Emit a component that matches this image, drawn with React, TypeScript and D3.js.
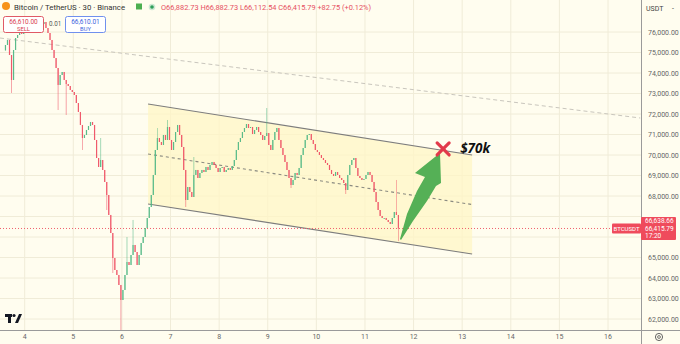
import React from 'react';
import * as d3 from 'd3';

// Hourly closes (BTC/USDT), first candle at -9.5h from day 4 00:00
const closes: number[] = [
  75366, 75610, 74878, 73659, 75122, 75707, 75854, 76098, 75902, 76000,
  76098, 75951, 76098, 76195, 76098, 76244, 76341, 76244, 76390, 76488,
  76195, 75951, 75610, 75122, 74731, 74244, 73415, 73903, 74049, 73659,
  73463, 73366, 73171, 73073, 72927, 72536, 72098, 71464, 70829, 70976,
  71220, 71415, 71610, 71464, 70732, 69853, 69415, 69756, 69269, 68683,
  68049, 67074, 66195, 64975, 64390, 64147, 63659, 62927, 63415, 64147,
  64780, 64634, 65122, 65610, 65268, 64634, 65122, 65707, 66000, 66439,
  66927, 67463, 68049, 69025, 70244, 70829, 70634, 70488, 70976, 70732,
  71366, 70732, 70244, 70634, 71122, 71464, 70976, 70390, 69269, 67805,
  68439, 68195, 67951, 69025, 69269, 68878, 69122, 69269, 69171, 69415,
  69269, 69513, 69659, 69513, 69366, 69171, 69366, 69415, 69171, 69269,
  69366, 69269, 69464, 69756, 70244, 70634, 70829, 71122, 71317, 71512,
  71317, 71366, 71024, 71220, 71366, 71122, 70976, 70732, 70927, 71073,
  70488, 70244, 70732, 71122, 71317, 70732, 70341, 70000, 69659, 69269,
  68878, 68537, 68781, 69122, 69025, 69366, 70000, 70341, 70732, 70976,
  71024, 70732, 70536, 70244, 70146, 70000, 69853, 69756, 69610, 69513,
  69269, 69073, 68976, 69171, 69025, 68878, 68781, 68634, 68293, 69025,
  69513, 69756, 69853, 69366, 68976, 68878, 68781, 68830, 69025, 69171,
  69025, 68683, 68195, 67707, 67317, 67025, 66927, 66927, 66830, 66732,
  66634, 66927, 67220, 67074, 66416,
];
const firstOpen = 75100;
const firstHour = -9.5;

// notable wicks [candle index, price]
const wickHighs: [number, number][] = [
  [47, 70829], [60, 66000], [63, 66830], [75, 71317], [80, 71708], [93, 69902],
  [129, 72292], [193, 68781],
];
const wickLows: [number, number][] = [
  [3, 73024], [26, 72195], [30, 71952], [38, 70244], [50, 67317], [53, 64244],
  [57, 61464], [89, 67463], [141, 68390], [168, 68097], [194, 65800],
];

const dayTicks = [4, 5, 6, 7, 8, 9, 10, 11, 12, 13, 14, 15, 16];
const priceTicks = [62000, 63000, 64000, 65000, 66000, 67000, 68000, 69000, 70000, 71000, 72000, 73000, 74000, 75000, 76000];

// channel (hours, price)
const channelUpper: [number, number][] = [[60.9, 72488], [220.9, 70000]];
const channelLower: [number, number][] = [[60.9, 67610], [220.9, 65170]];
const trendLine: [number, number][] = [[-12.2, 75707], [303.9, 71805]];
const targetPoint: [number, number] = [206.6, 70293];
const arrowTail: [number, number] = [185.3, 65903];

const UP = '#52b985';
const DOWN = '#ef5266';
const BG = '#fffdef';
const GRID = '#f0ecd8';
const FONT = 'Roboto, "Liberation Sans", Arial, sans-serif';

export default function App() {
  const W = 680, H = 344;
  const plotRight = 641, axisY = 330;
  const x = d3.scaleLinear().domain([0, 288]).range([24.7, 608]);
  const y = d3.scaleLinear().domain([62000, 76000]).range([319, 32]);
  const fmt = d3.format(',.2f');

  const hi = new Map(wickHighs);
  const lo = new Map(wickLows);

  const candles = closes.map((c, i) => {
    const o = i === 0 ? firstOpen : closes[i - 1];
    const h = Math.max(o, c, hi.get(i) ?? -Infinity);
    const l = Math.min(o, c, lo.get(i) ?? Infinity);
    return { t: firstHour + i, o, c, h, l };
  });

  const last = closes[closes.length - 1];
  const yLast = y(last);

  const mid: [number, number][] = [
    [channelUpper[0][0], (channelUpper[0][1] + channelLower[0][1]) / 2],
    [channelUpper[1][0], (channelUpper[1][1] + channelLower[1][1]) / 2],
  ];
  const px = (p: [number, number]) => [x(p[0]), y(p[1])] as [number, number];
  const para = [px(channelUpper[0]), px(channelUpper[1]), px(channelLower[1]), px(channelLower[0])];

  const [tx, ty] = px(arrowTail);
  const [cx, cy] = px(targetPoint);
  const arrowRel: [number, number][] = [
    [0, 0], [7, -25], [17, -48], [25, -62], [15, -66], [40, -86], [41, -56],
    [36, -53], [27, -38], [13, -18], [1, 1],
  ];
  const arrowPath = d3.line().curve(d3.curveLinearClosed)(arrowRel.map(([a, b]) => [tx + a, ty + b]))!;

  const hdrRed = '#e6505f';
  const boxTop = yLast - 11.5;
  const visibleTicks = priceTicks.filter(p => {
    const yy = y(p);
    return yy < boxTop - 3 || yy > boxTop + 26;
  });

  return (
    <svg width={W} height={H} style={{ position: 'fixed', left: 0, top: 0, background: BG }} fontFamily={FONT}>
      <defs>
        <clipPath id="aboveBox">
          <rect x={0} y={0} width={W} height={boxTop} />
        </clipPath>
      </defs>
      <rect x={0} y={0} width={W} height={H} fill={BG} />
      {/* grid */}
      {priceTicks.map(p => (
        <line key={'gy' + p} x1={0} x2={plotRight} y1={y(p)} y2={y(p)} stroke={GRID} strokeWidth={1} />
      ))}
      {dayTicks.map(d => (
        <line key={'gx' + d} x1={x((d - 4) * 24)} x2={x((d - 4) * 24)} y1={0} y2={axisY} stroke={GRID} strokeWidth={1} />
      ))}

      {/* long dashed trend line */}
      <line x1={px(trendLine[0])[0]} y1={px(trendLine[0])[1]} x2={px(trendLine[1])[0]} y2={px(trendLine[1])[1]}
        stroke="#c9c6bd" strokeWidth={1} strokeDasharray="4 3" />

      {/* channel */}
      <polygon points={para.map(p => p.join(',')).join(' ')} fill="#fff5c6" opacity={0.75} />
      <line x1={para[0][0]} y1={para[0][1]} x2={para[1][0]} y2={para[1][1]} stroke="#7d7d7d" strokeWidth={1.2} />
      <line x1={para[3][0]} y1={para[3][1]} x2={para[2][0]} y2={para[2][1]} stroke="#7d7d7d" strokeWidth={1.2} />
      <line x1={px(mid[0])[0]} y1={px(mid[0])[1]} x2={px(mid[1])[0]} y2={px(mid[1])[1]}
        stroke="#8a8a80" strokeWidth={1.1} strokeDasharray="3 3" />

      {/* last price line */}
      <line x1={0} x2={plotRight} y1={yLast} y2={yLast} stroke="#f0606e" strokeWidth={1} strokeDasharray="1 2" />

      {/* candles */}
      {candles.map((d, i) => {
        const cxx = x(d.t);
        const col = d.c >= d.o ? UP : DOWN;
        const top = y(Math.max(d.o, d.c));
        const bot = y(Math.min(d.o, d.c));
        return (
          <g key={i}>
            <line x1={cxx} x2={cxx} y1={y(d.h)} y2={y(d.l)} stroke={col} strokeWidth={0.7} opacity={0.75} />
            <rect x={cxx - 0.6} y={top} width={1.2} height={Math.max(1, bot - top)} fill={col} opacity={0.92} />
          </g>
        );
      })}

      {/* arrow, target */}
      <path d={arrowPath} fill="#55b056" />
      <g stroke="#e23a4a" strokeWidth={3.2} strokeLinecap="round">
        <line x1={cx - 6} y1={cy - 6} x2={cx + 6} y2={cy + 6} />
        <line x1={cx - 6} y1={cy + 6} x2={cx + 6} y2={cy - 6} />
      </g>
      <text x={cx + 17} y={cy + 4.5} fontSize={13.5} fontWeight={700} fontStyle="italic" fill="#111"
        fontFamily='"Open Sans", "DejaVu Sans", sans-serif'>$70k</text>

      {/* axes */}
      <rect x={plotRight} y={0} width={W - plotRight} height={H} fill={BG} />
      <rect x={0} y={axisY} width={W} height={H - axisY} fill={BG} />
      <line x1={plotRight + 0.5} x2={plotRight + 0.5} y1={0} y2={H} stroke="#9a9a9a" strokeWidth={1} />
      <line x1={0} x2={W} y1={axisY + 0.5} y2={axisY + 0.5} stroke="#9a9a9a" strokeWidth={1} />
      {visibleTicks.map(p => (
        <text key={'py' + p} x={648} y={y(p) + 2.5} fontSize={7} fill="#666">{fmt(p)}</text>
      ))}
      <g clipPath="url(#aboveBox)">
        <rect x={645} y={boxTop - 4} width={30} height={4} fill={BG} />
      </g>
      {dayTicks.map(d => (
        <text key={'dx' + d} x={x((d - 4) * 24)} y={339} fontSize={7} fill="#666" textAnchor="middle">{d}</text>
      ))}
      <text x={646} y={11} fontSize={7} fill="#444">USDT</text>
      <text x={672} y={11} fontSize={7} fill="#444">-</text>
      <circle cx={659} cy={337} r={3.6} fill="none" stroke="#555" strokeWidth={0.9} />
      <circle cx={659} cy={337} r={1.4} fill="none" stroke="#555" strokeWidth={0.8} />

      {/* last price labels */}
      <rect x={612} y={yLast - 5} width={29} height={10} fill="#ef4b5c" rx={1} />
      <text x={626.5} y={yLast + 2.3} fontSize={6} fill="#fff" textAnchor="middle">BTCUSDT</text>
      <rect x={641} y={boxTop} width={35} height={23} fill="#ef4b5c" rx={1} />
      <text x={645} y={yLast - 5} fontSize={6.5} fill="#fff">66,638.66</text>
      <text x={645} y={yLast + 2.3} fontSize={6.5} fill="#fff">{fmt(last - 0.21)}</text>
      <text x={645} y={yLast + 9.3} fontSize={6.5} fill="#fff">17:20</text>

      {/* header */}
      <circle cx={6} cy={6} r={4} fill="#f7931a" />
      <text x={14} y={10} fontSize={7.8} fill="#333">Bitcoin / TetherUS · 30 · Binance</text>
      <rect x={136} y={3.5} width={6} height={6} fill="#4caf50" />
      <circle cx={152} cy={7} r={3.3} fill="#cfe8d4" />
      <circle cx={152} cy={7} r={1.8} fill="#2e9e5a" />
      <text x={161} y={10} fontSize={7.4} fill={hdrRed}>O66,882.73 H66,882.73 L66,112.54 C66,415.79 +82.75 (+0.12%)</text>

      {/* buy/sell */}
      <rect x={3.5} y={16.5} width={40} height={16} rx={2} fill="#fff" stroke="#e05a66" strokeWidth={1} />
      <text x={23.5} y={23.5} fontSize={6.5} fill="#d9414f" textAnchor="middle">66,610.00</text>
      <text x={23.5} y={30.5} fontSize={5.8} fill="#d9414f" textAnchor="middle">SELL</text>
      <text x={49} y={26} fontSize={6.3} fill="#555">0.01</text>
      <rect x={65.5} y={16.5} width={40} height={16} rx={2} fill="#fff" stroke="#7090ee" strokeWidth={1} />
      <text x={85.5} y={23.5} fontSize={6.5} fill="#3d63dd" textAnchor="middle">66,610.01</text>
      <text x={85.5} y={30.5} fontSize={5.8} fill="#3d63dd" textAnchor="middle">BUY</text>

      {/* logo */}
      <g fill="#131722">
        <rect x={5} y={314} width={7} height={3} />
        <rect x={8} y={314} width={3} height={9} />
        <circle cx={14} cy={315.5} r={1.6} />
        <path d="M15 323 L19 314 L22 314 L18 323 Z" />
      </g>
    </svg>
  );
}
